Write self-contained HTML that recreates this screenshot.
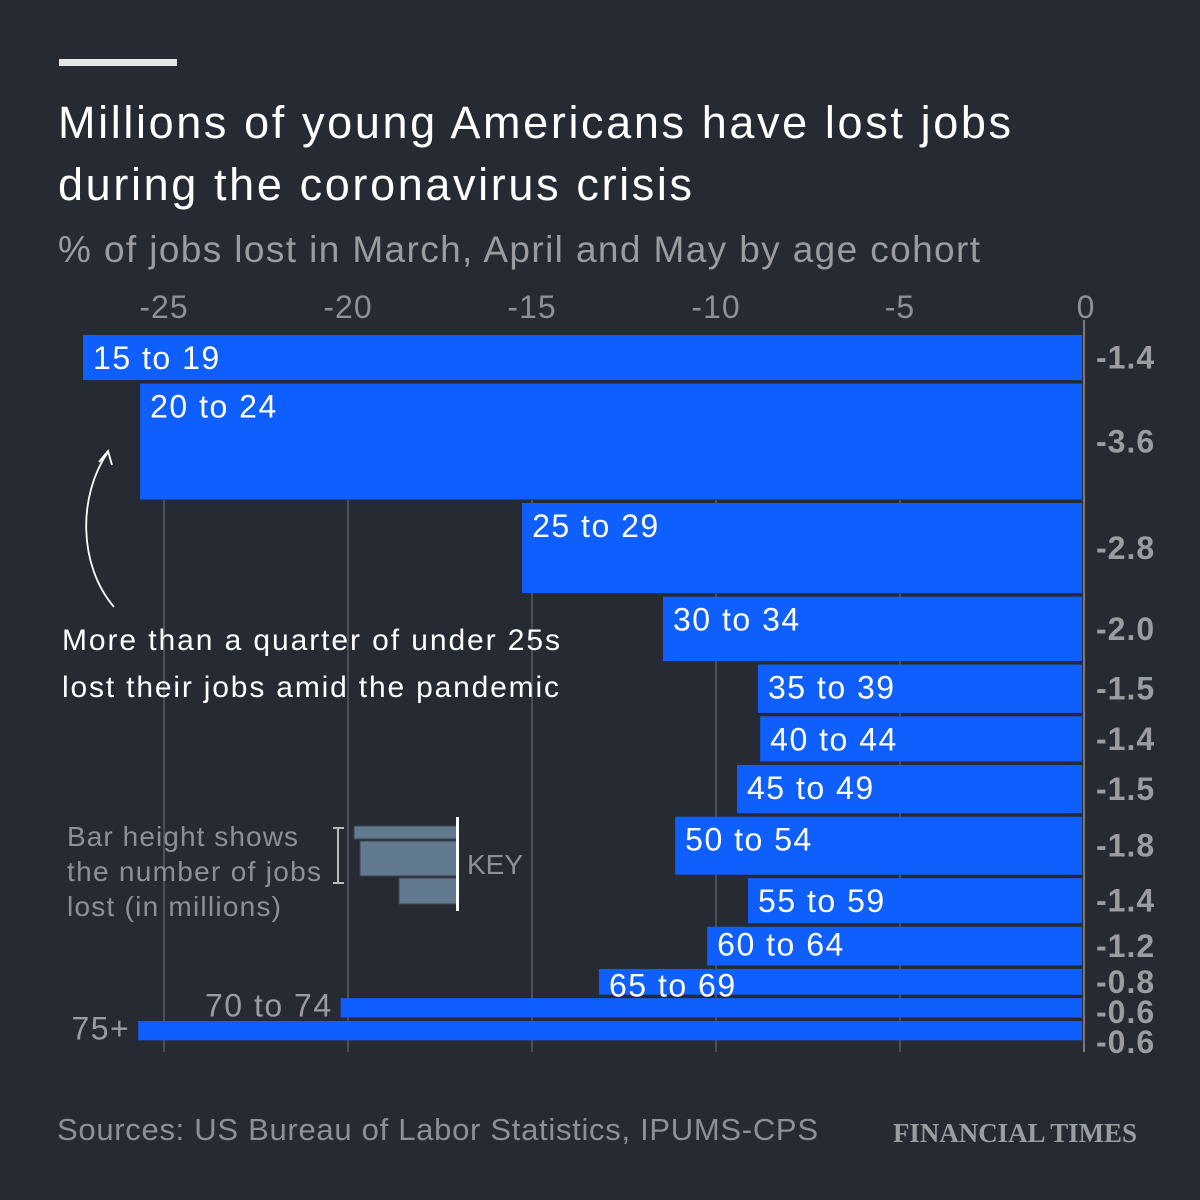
<!DOCTYPE html>
<html><head><meta charset="utf-8"><style>
html,body{margin:0;padding:0;background:#262a33;}
svg{display:block;}
text{font-family:"Liberation Sans","DejaVu Sans",sans-serif;}
</style></head><body>
<svg id="chart" width="1200" height="1200" viewBox="0 0 1200 1200" xmlns="http://www.w3.org/2000/svg">
<rect width="1200" height="1200" fill="#262a33"/>
<rect x="59" y="59" width="118" height="7" fill="#e6e6e6"/>
<text x="58" y="138" font-size="45" fill="#fff" textLength="953">Millions of young Americans have lost jobs</text>
<text x="58" y="200" font-size="45" fill="#fff" textLength="634">during the coronavirus crisis</text>
<text x="58" y="262" font-size="37" fill="#9a9ca0" textLength="922">% of jobs lost in March, April and May by age cohort</text>
<g id="grid"></g>
<g id="bars"></g>
<g id="annot">
<path d="M114,607 C78,565 78,495 108,452" fill="none" stroke="#fff" stroke-width="1.8"/>
<path d="M99,462 L108,451 L112,465" fill="none" stroke="#fff" stroke-width="1.8"/>
<text x="62" y="650" font-size="30" fill="#fff" textLength="498">More than a quarter of under 25s</text>
<text x="62" y="697" font-size="30" fill="#fff" textLength="497">lost their jobs amid the pandemic</text>
</g>
<g>
<text x="67" y="846" font-size="28" fill="#8e9096" textLength="231">Bar height shows</text>
<text x="67" y="881" font-size="28" fill="#8e9096" textLength="254">the number of jobs</text>
<text x="67" y="916" font-size="28" fill="#8e9096" textLength="214">lost (in millions)</text>
<path d="M333,828 H344 M338,828 V883 M333,883 H344" stroke="#bbb" stroke-width="2" fill="none"/>
<rect x="354" y="826" width="103" height="13" fill="#627a90" stroke="#3d4450"/>
<rect x="360" y="841" width="97" height="35" fill="#627a90" stroke="#3d4450"/>
<rect x="399" y="878" width="58" height="26" fill="#627a90" stroke="#3d4450"/>
<rect x="456" y="817" width="3" height="94" fill="#fff"/>
<text x="467" y="874" font-size="28" fill="#8e9096">KEY</text>
</g>
<text x="57" y="1140" font-size="31" fill="#8e9096" textLength="761">Sources: US Bureau of Labor Statistics, IPUMS-CPS</text>
<text x="893" y="1142" font-size="27" fill="#9a9ca0" font-weight="bold" textLength="244" style="font-family:'Liberation Serif',serif">FINANCIAL TIMES</text>
</svg>
<script>
const categories=["15 to 19","20 to 24","25 to 29","30 to 34","35 to 39","40 to 44","45 to 49","50 to 54","55 to 59","60 to 64","65 to 69","70 to 74","75+"];
const pctLost=[-27.2,-25.65,-15.27,-11.44,-8.86,-8.8,-9.43,-11.11,-9.13,-10.24,-13.18,-20.2,-25.7];
const jobsLost=[1.4,3.6,2.8,2.0,1.5,1.4,1.5,1.8,1.4,1.2,0.8,0.6,0.6];
const jobsLabels=["-1.4","-3.6","-2.8","-2.0","-1.5","-1.4","-1.5","-1.8","-1.4","-1.2","-0.8","-0.6","-0.6"];
const ticks=[-25,-20,-15,-10,-5,0];
const NS="http://www.w3.org/2000/svg";
const x=v=>1084+v*36.8;
const hScale=m=>m*32.2;
function mk(tag,attrs,parent){const e=document.createElementNS(NS,tag);for(const k in attrs)e.setAttribute(k,attrs[k]);parent.appendChild(e);return e;}
const grid=document.getElementById('grid');
ticks.forEach(t=>{
  const l=mk('line',{x1:x(t),x2:x(t),y1:t===0?320:500,y2:1052,stroke:t===0?'#777a80':'#4a4e57','stroke-width':2},grid);
  
  
  const tx=mk('text',{x:x(t)+(t===0?2:0),y:318,'font-size':32,fill:'#8e9096','text-anchor':'middle','letter-spacing':1},grid);
  tx.textContent=t;
  
  
});
const bars=document.getElementById('bars');
let y=335;
let lastLabelY=0;
categories.forEach((c,i)=>{
  const h=hScale(jobsLost[i]);
  const x0=x(pctLost[i]);
  const r=mk('rect',{x:x0,y:y,width:1082-x0,height:h,fill:'#0f5fff'},bars);
  
  
  const small=i>=11;
  const lt=mk('text',small?{x:x0-8,y:y+h-1,'font-size':32,fill:'#9a9ca0','text-anchor':'end','letter-spacing':1.5}:{x:x0+10,y:y+Math.min(h,44)-10,'font-size':32,fill:'#fff','letter-spacing':1.5},bars);
  if(!small && h<30){lt.setAttribute('y',y+h+2);}
  lt.textContent=c;
  
  
  let vy=y+h/2+11;
  if(vy<lastLabelY+30) vy=lastLabelY+30;
  lastLabelY=vy;
  const vt=mk('text',{x:1096,y:vy,'font-size':32,'font-weight':'bold',fill:'#9a9ca0','letter-spacing':1},bars);
  vt.textContent=jobsLabels[i];
  
  
  y+=h+3.5;
});
</script>
</body></html>
